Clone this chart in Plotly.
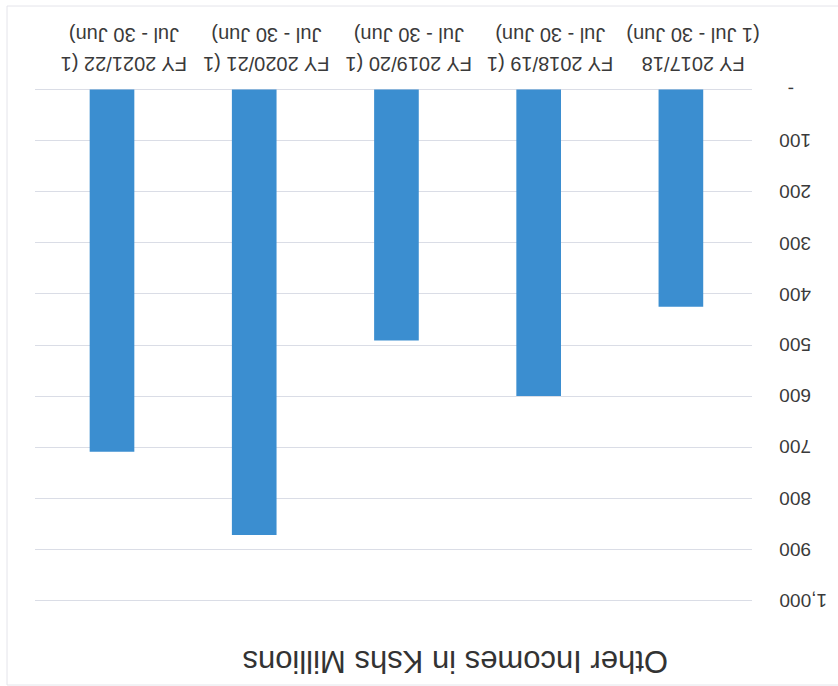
import plotly.graph_objects as go

categories = ["FY 2017/18 (1 Jul - 30 Jun)", "FY 2018/19 (1 Jul - 30 Jun)",
              "FY 2019/20 (1 Jul - 30 Jun)", "FY 2020/21 (1 Jul - 30 Jun)",
              "FY 2021/22 (1 Jul - 30 Jun)"]
category_labels = ["FY 2017/18<br>(1 Jul - 30 Jun)", "FY 2018/19 (1<br>Jul - 30 Jun)",
                   "FY 2019/20 (1<br>Jul - 30 Jun)", "FY 2020/21 (1<br>Jul - 30 Jun)",
                   "FY 2021/22 (1<br>Jul - 30 Jun)"]
other_incomes = [425, 600, 491, 872, 709]
y_tick_values = [0, 100, 200, 300, 400, 500, 600, 700, 800, 900, 1000]
y_tick_labels = ["-", "100", "200", "300", "400", "500", "600", "700", "800", "900", "1,000"]
title_text = "Other Incomes in Kshs Millions"

W, H = 838, 686
L, R, T, B = 35, 86, 87, 83
pw, ph = W - L - R, H - T - B

def px_x(px):
    return (px - L) / pw

def px_y(py):
    return (H - B - py) / ph

FONT = "Liberation Sans"
TXT = "#3a3a3a"

fig = go.Figure(go.Bar(
    x=categories, y=other_incomes, marker=dict(color="#3B8ED0", line=dict(width=0)),
))

fig.update_layout(
    width=W, height=H, margin=dict(l=L, r=R, t=T, b=B, autoexpand=False),
    paper_bgcolor="white", plot_bgcolor="white", showlegend=False,
    bargap=0.686, font=dict(family=FONT, color=TXT),
)
fig.update_xaxes(
    autorange="reversed", showticklabels=False,
    showline=False, showgrid=False, ticks="", zeroline=False,
)
fig.update_yaxes(
    range=[1005, -5], tickmode="array", tickvals=y_tick_values, showticklabels=False,
    showgrid=True, gridcolor="#DADDE6", gridwidth=1, zeroline=False, showline=False,
    side="right",
)

# category labels (drawn upside down, as in the reference)
for cat, lab in zip(categories, category_labels):
    line1, line2 = lab.split("<br>")
    for txt, py in ((line1, 64), (line2, 35)):
        fig.add_annotation(
            x=cat, xref="x", y=px_y(py), yref="paper", text=txt, textangle=180,
            showarrow=False, xanchor="center", yanchor="middle", xshift=12,
            font=dict(size=20, color=TXT, family=FONT),
        )

for v, t in zip(y_tick_values, y_tick_labels):
    fig.add_annotation(
        x=px_x(777) if t != "-" else px_x(791), xref="paper", y=v, yref="y",
        text=t, textangle=180, showarrow=False,
        xanchor="left" if t != "-" else "center", yanchor="middle",
        font=dict(size=19, color=TXT, family=FONT),
    )

fig.add_annotation(
    x=px_x(455), y=px_y(662), xref="paper", yref="paper", text=title_text,
    textangle=180, showarrow=False, xanchor="center", yanchor="middle",
    font=dict(size=31, color="#333333", family=FONT),
)

fig.add_shape(type="rect", xref="paper", yref="paper",
              x0=px_x(7), x1=px_x(850), y0=px_y(685), y1=px_y(6),
              line=dict(color="#E4E4EA", width=1), layer="below")

fig.write_html("out.html")
